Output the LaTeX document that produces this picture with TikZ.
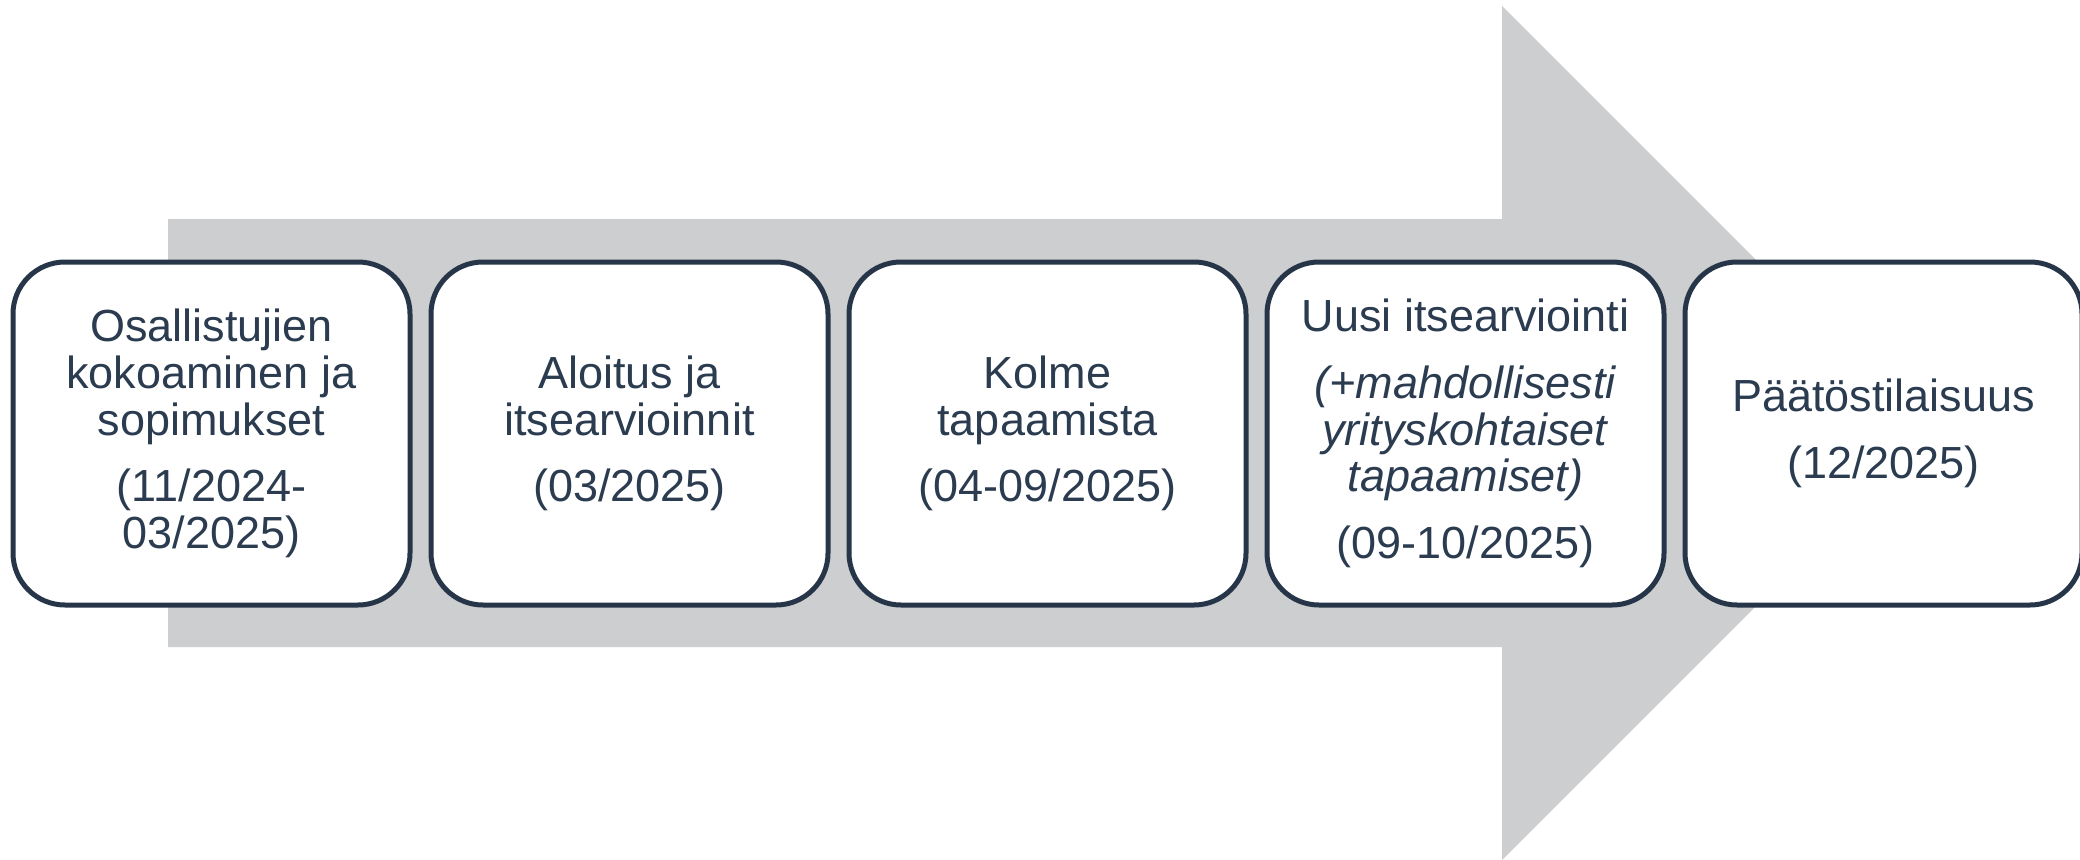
\documentclass[tikz,border=0pt]{standalone}
\usepackage{fontspec}
\setmainfont{Liberation Sans}
\usepackage{xcolor}
\usetikzlibrary{positioning}
\definecolor{arrowgray}{HTML}{CDCED0}
\definecolor{boxnavy}{HTML}{263648}
\definecolor{textnavy}{HTML}{2B3C50}
\tikzset{phasebox/.style={draw=boxnavy, line width=2.5pt, fill=white, rounded corners=26pt,
  minimum width=198.5pt, minimum height=171.5pt, inner sep=0pt, align=center, text=textnavy,
  font=\fontsize{22.5pt}{23.3pt}\selectfont}}

\begin{document}
\begin{tikzpicture}[x=0.5pt,y=0.5pt]
	\useasboundingbox (0,0) rectangle (2080,859);
	% big grey arrow behind the phases
	\fill[arrowgray] (168,212) -- (168,640) -- (1502,640) -- (1502,853) -- (1929,426) -- (1502,-1) -- (1502,212) -- cycle;
	% phases
	\node[phasebox] (osallistujat) at (211.5,425.5) {Osallistujien\\kokoaminen ja\\sopimukset\\[10pt](11/2024-\\03/2025)};
	\node[phasebox, right=8pt of osallistujat] (aloitus) {Aloitus ja\\itsearvioinnit\\[10pt](03/2025)};
	\node[phasebox, right=8pt of aloitus] (tapaamiset) {Kolme\\tapaamista\\[10pt](04-09/2025)};
	\node[phasebox, right=8pt of tapaamiset] (uusiarvio) {Uusi itsearviointi\\[10pt]\textit{(+mahdollisesti}\\\textit{yrityskohtaiset}\\\textit{tapaamiset)}\\[10pt](09-10/2025)};
	\node[phasebox, right=8pt of uusiarvio] (paatos) {Päätöstilaisuus\\[10pt](12/2025)};
\end{tikzpicture}
\end{document}
